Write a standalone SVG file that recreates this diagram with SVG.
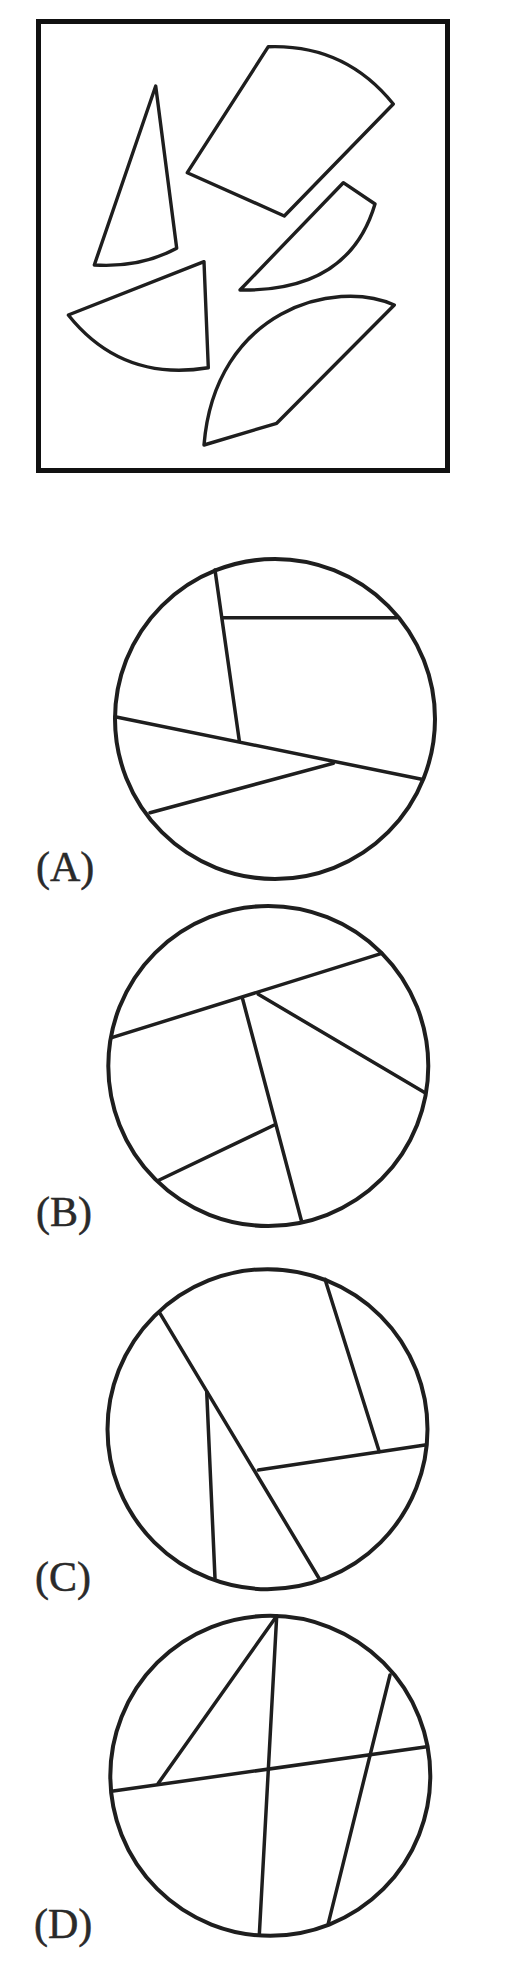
<svg xmlns="http://www.w3.org/2000/svg" width="512" height="1972" viewBox="0 0 512 1972">
<style>
.f{fill:none;stroke:#1e1e1e;stroke-width:3.4;stroke-linejoin:round;stroke-linecap:round}
.c{fill:none;stroke:#1e1e1e;stroke-width:4}
.l{stroke:#1e1e1e;stroke-width:3.5;stroke-linecap:round}
.t{font-family:"Liberation Serif",serif;font-size:42px;fill:#2a2a2a;stroke:#2a2a2a;stroke-width:0.5}
</style>
<rect width="512" height="1972" fill="#fff"/>
<g id="question">
<rect x="38.5" y="21.5" width="409" height="449" fill="none" stroke="#111" stroke-width="5"/>
<path class="f" d="M155.7,86 L176.7,248.3 Q140,268 94.3,265 Z"/>
<path class="f" d="M268.3,46.7 Q345,44 393.3,104 L284.3,216 L187.3,172.7 Z"/>
<path class="f" d="M343.3,182.7 L375,204 Q349,292 240,290 Z"/>
<path class="f" d="M68.3,315 L204,261.7 L208.3,367.7 Q121.7,382 68.3,315 Z"/>
<path class="f" d="M204,445 L276.7,423.3 L394.3,305 C335,278 215,310 204,445 Z"/>
</g>
<g id="optionA">
<circle class="c" cx="275" cy="719" r="160"/>
<g id="connectorsA">
<line class="l" x1="215" y1="570" x2="239.3" y2="740.7"/>
<line class="l" x1="223.3" y1="617.7" x2="396.7" y2="617.7"/>
<line class="l" x1="115" y1="716.7" x2="421.7" y2="779.3"/>
<line class="l" x1="150" y1="812.7" x2="333.3" y2="763.3"/>
</g>
<text class="t" x="36" y="881">(A)</text>
</g>
<g id="optionB">
<circle class="c" cx="268.3" cy="1066" r="160"/>
<g id="connectorsB">
<line class="l" x1="111.7" y1="1037.7" x2="381.7" y2="953.3"/>
<line class="l" x1="242.7" y1="999.3" x2="301.7" y2="1221.7"/>
<line class="l" x1="258.3" y1="994.3" x2="425" y2="1092.7"/>
<line class="l" x1="159.3" y1="1180" x2="274.3" y2="1125"/>
</g>
<text class="t" x="36" y="1226">(B)</text>
</g>
<g id="optionC">
<circle class="c" cx="267.5" cy="1429.2" r="160"/>
<g id="connectorsC">
<line class="l" x1="160" y1="1313.3" x2="320" y2="1580"/>
<line class="l" x1="206.7" y1="1391.7" x2="215" y2="1578.3"/>
<line class="l" x1="325" y1="1279.3" x2="379.3" y2="1451.7"/>
<line class="l" x1="258.3" y1="1470" x2="425" y2="1445"/>
</g>
<text class="t" x="35" y="1591">(C)</text>
</g>
<g id="optionD">
<circle class="c" cx="270.3" cy="1775.8" r="160"/>
<g id="connectorsD">
<line class="l" x1="276.7" y1="1616" x2="259.3" y2="1935"/>
<line class="l" x1="276.7" y1="1616" x2="158.3" y2="1783.3"/>
<line class="l" x1="113.3" y1="1791" x2="426.7" y2="1746.7"/>
<line class="l" x1="390" y1="1675" x2="328.3" y2="1923.3"/>
</g>
<text class="t" x="34" y="1938">(D)</text>
</g>
</svg>
